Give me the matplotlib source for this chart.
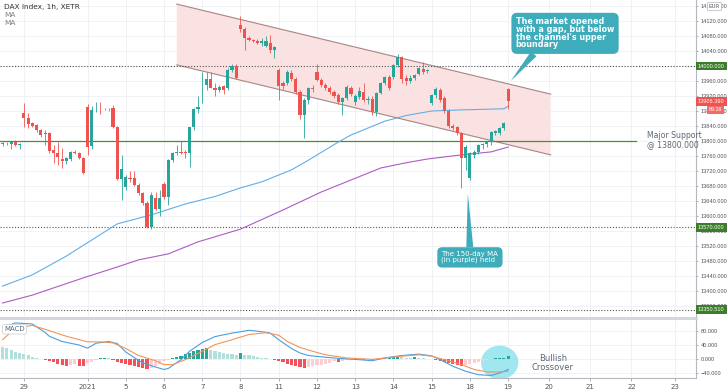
import matplotlib
matplotlib.use("Agg")
import matplotlib.pyplot as plt
import numpy as np
from matplotlib.patches import Ellipse, Polygon

# 1h candles, DAX Index (XETR), 28 Dec 2020 - 19 Jan 2021
opens = [13793, 13795, 13792, 13798, 13790, 13875, 13862, 13848, 13843, 13829,
         13818, 13821, 13776, 13768, 13752, 13747, 13752, 13771, 13768, 13755,
         13891, 13787, 13885, 13886, 13885, 13886, 13888, 13837, 13698, 13677,
         13701, 13701, 13683, 13661, 13635, 13571, 13648, 13619, 13685, 13651,
         13749, 13768, 13772, 13771, 13768, 13837, 13885, 13949, 13949, 13965,
         13941, 13936, 13947, 13941, 13989, 14000, 14109, 14099, 14075, 14070,
         14066, 14061, 14053, 14061, 14043, 13989, 13955, 13955, 13981, 13965,
         13931, 13869, 13909, 13941, 13984, 13963, 13949, 13941, 13932, 13923,
         13904, 13915, 13941, 13904, 13917, 13931, 13909, 13912, 13877, 13928,
         13955, 13971, 13971, 14003, 14024, 13968, 13960, 13968, 13979, 13992,
         13987, 13901, 13923, 13936, 13915, 13880, 13840, 13837, 13821, 13755,
         13701, 13763, 13771, 13789, 13792, 13797, 13822, 13821, 13835, 13939]
highs = [13797, 13798, 13801, 13802, 13794, 13901, 13875, 13852, 13846, 13832,
         13829, 13823, 13790, 13797, 13782, 13758, 13773, 13775, 13771, 13757,
         13900, 13893, 13904, 13904, 13888, 13889, 13895, 13840, 13763, 13710,
         13720, 13720, 13688, 13665, 13640, 13665, 13665, 13670, 13690, 13752,
         13772, 13790, 13800, 13775, 13838, 13888, 13920, 13984, 13984, 13984,
         13955, 13949, 13950, 13995, 14005, 14005, 14133, 14104, 14080, 14072,
         14072, 14075, 14080, 14083, 14053, 13995, 13960, 13990, 13990, 13970,
         13935, 13915, 13945, 13950, 14005, 13968, 13955, 13946, 13936, 13928,
         13918, 13950, 13946, 13925, 13945, 13955, 13920, 13920, 13930, 13958,
         13973, 13975, 14005, 14032, 14028, 13975, 13975, 13980, 13998, 14010,
         13992, 13925, 13945, 13942, 13920, 13885, 13845, 13840, 13825, 13790,
         13770, 13775, 13792, 13795, 13800, 13828, 13830, 13838, 13850, 13942]
lows = [13788, 13790, 13780, 13786, 13780, 13837, 13835, 13838, 13825, 13812,
        13790, 13768, 13742, 13736, 13728, 13740, 13748, 13765, 13752, 13712,
        13763, 13778, 13877, 13872, 13882, 13880, 13835, 13695, 13643, 13670,
        13690, 13680, 13655, 13630, 13568, 13566, 13615, 13600, 13645, 13630,
        13745, 13762, 13765, 13755, 13731, 13830, 13875, 13901, 13936, 13941,
        13920, 13930, 13925, 13935, 13985, 13965, 14090, 14043, 14068, 14064,
        14058, 14053, 14050, 14035, 14021, 13909, 13940, 13950, 13960, 13925,
        13860, 13808, 13900, 13930, 13960, 13945, 13937, 13925, 13915, 13900,
        13870, 13910, 13920, 13895, 13912, 13905, 13900, 13870, 13868, 13925,
        13950, 13935, 13965, 13998, 13955, 13950, 13955, 13962, 13975, 13978,
        13982, 13895, 13915, 13905, 13875, 13835, 13830, 13815, 13675, 13723,
        13695, 13755, 13765, 13780, 13785, 13790, 13815, 13815, 13830, 13885]
closes = [13795, 13794, 13798, 13789, 13791, 13862, 13845, 13840, 13829, 13816,
          13821, 13773, 13768, 13757, 13747, 13755, 13771, 13768, 13755, 13715,
          13784, 13883, 13886, 13885, 13886, 13885, 13837, 13698, 13725, 13704,
          13698, 13683, 13661, 13635, 13571, 13656, 13619, 13648, 13651, 13749,
          13768, 13771, 13768, 13768, 13837, 13885, 13891, 13950, 13965, 13941,
          13936, 13944, 13936, 13989, 14000, 13968, 14099, 14075, 14069, 14066,
          14061, 14067, 14066, 14043, 14050, 13947, 13947, 13984, 13965, 13931,
          13869, 13909, 13941, 13938, 13963, 13949, 13941, 13930, 13920, 13904,
          13915, 13944, 13925, 13920, 13933, 13909, 13912, 13877, 13928, 13955,
          13971, 13941, 14003, 14024, 13965, 13960, 13968, 13976, 13995, 13984,
          13987, 13923, 13939, 13909, 13880, 13840, 13835, 13821, 13755, 13784,
          13768, 13771, 13789, 13792, 13797, 13824, 13826, 13835, 13848, 13906.39]

# moving averages (read at a few bars)
ma_fast_idx = [0, 7, 15, 21, 27, 35, 43, 50, 56, 61, 68, 72, 79, 82, 90, 95, 101, 108, 115, 118, 119]
ma_fast = [13413, 13443, 13493, 13536, 13579, 13603, 13632, 13652, 13675, 13691, 13723,
           13749, 13797, 13816, 13853, 13868, 13880, 13883, 13885, 13886, 13893]
ma_slow_idx = [0, 7, 19, 27, 32, 39, 46, 56, 66, 75, 82, 89, 95, 100, 108, 115, 119]
ma_slow = [13368, 13389, 13435, 13464, 13483, 13499, 13531, 13565, 13616, 13664,
           13696, 13728, 13742, 13752, 13763, 13771, 13784]

# MACD panel
hist = [34, 30, 25, 21, 17, 13, 10, 7, 4, 1,
        -4, -7, -10, -13, -16, -19, -16, -14, -19, -20,
        -12, -8, -4, 2, 3, 2, -2, -8, -12, -15,
        -18, -21, -24, -27, -30, -25, -19, -13, -7, -2,
        3, 6, 9, 13, 17, 22, 25, 29, 30, 26,
        22, 20, 17, 15, 14, 12, 17, 12, 10, 8,
        6, 4, 2, -1, -4, -6, -10, -14, -17, -20,
        -24, -25, -22, -20, -18, -16, -14, -12, -7, -8,
        -5, -4, -3, -2, -1.5, -2.5, -1.5, -2.5, -1, 1,
        2, 3, 5, 7, 5, 4, 3, 4.5, 3, 2,
        1, -1, -3, -5, -8, -11, -14, -17, -20, -17,
        -14, -11, -8, -5, -3, -1, 2, 3, 4, 8]
macd_idx = [0, 3, 7, 10, 11, 14, 18, 20, 22, 25, 27, 29, 31, 33, 36, 38, 39, 42, 44,
            47, 50, 54, 58, 61, 63, 65, 68, 70, 72, 76, 80, 84, 87, 90, 94, 98, 101,
            103, 106, 109, 112, 115, 117, 119]
macd_line = [89, 103, 100, 76, 65, 50, 40, 31, 45, 50, 44, 20, 4, -11, -23, -30, -27,
             -2, 22, 47, 64, 74, 82, 78, 74, 55, 30, 17, 10, 5, 1, -2, -5, 3, 10, 14,
             9, -2, -21, -35, -45, -47, -40, -30]
signal_idx = [0, 3, 7, 10, 15, 20, 23, 26, 29, 32, 36, 38, 40, 43, 47, 50, 54, 58, 62,
              65, 67, 70, 73, 76, 81, 84, 87, 90, 94, 98, 101, 104, 108, 111, 114, 117, 119]
signal_line = [55, 88, 96, 85, 65, 49, 49, 46, 30, 10, -5, -16, -16, -2, 22, 41, 55, 70,
               75, 68, 50, 33, 22, 12, 3, 1, -1, 3, 8, 12, 8, -2, -16, -30, -37, -37, -35]

day_pos = [5, 20, 29, 38, 47, 56, 65, 74, 83, 92, 101, 110, 119, 128.6, 138.2, 148, 158.2]
day_labels = ["29", "2021", "5", "6", "7", "8", "11", "12", "13", "14", "15", "18",
              "19", "20", "21", "22", "23"]

# channel and levels
chan_x = [41, 129]
chan_upper = [14165, 13925]
chan_lower = [14003, 13763]
support = 13800
levels = [14000, 13570, 13350.51]

GREEN = "#26a69a"
RED = "#ef5350"
TEAL = "#3eacba"
GRID = "#eef0f4"
LBL = "#50545c"
AXF = "Liberation Sans"

fig = plt.figure(figsize=(7.28, 3.91), dpi=100)
ax = fig.add_axes([0, 73 / 391, 696 / 728, 318 / 391])
ax2 = fig.add_axes([0, 13 / 391, 696 / 728, 58 / 391], sharex=ax)

x = np.arange(len(opens))
o = np.array(opens); h = np.array(highs); l = np.array(lows); c = np.array(closes)
up = c >= o
cols = np.where(up, GREEN, RED)

for a in (ax, ax2):
    for d in day_pos:
        a.axvline(d, color=GRID, lw=0.6, zorder=0)

yt = np.arange(13360, 14161, 40)
for v in yt:
    ax.axhline(v, color=GRID, lw=0.6, zorder=0)

# channel
ax.add_patch(Polygon([(chan_x[0], chan_upper[0]), (chan_x[1], chan_upper[1]),
                      (chan_x[1], chan_lower[1]), (chan_x[0], chan_lower[0])],
                     closed=True, fc="#fbe2e2", ec="none", zorder=1))
ax.plot(chan_x, chan_upper, color="#a88585", lw=0.8, zorder=2)
ax.plot(chan_x, chan_lower, color="#a88585", lw=0.8, zorder=2)

for v in levels:
    ax.axhline(v, color="#555555", lw=0.8, ls=(0, (1, 1.6)), zorder=2)
ax.plot([-1, 149], [support, support], color="#4a8c3a", lw=0.9, zorder=2)

ax.plot(ma_fast_idx, ma_fast, color="#62aee8", lw=0.8, zorder=3)
ax.plot(ma_slow_idx, ma_slow, color="#ad5cc4", lw=0.8, zorder=3)

# candles
ax.vlines(x, l, h, colors=cols, lw=0.6, zorder=4)
body = np.maximum(np.abs(c - o), 1.5)
ax.bar(x, body, bottom=np.minimum(o, c), width=0.72, color=cols, zorder=5)

ax.set_xlim(-0.6, 163.2)
ax.set_ylim(13328, 14176)
ax.yaxis.tick_right()
ax.set_yticks(yt)
ax.set_yticklabels(["%.3f" % v for v in yt], family=AXF)
ax.tick_params(axis="y", labelsize=4.1, colors="#8a8e96", labelcolor=LBL, length=1.5, pad=2, width=0.5)
ax.tick_params(axis="x", bottom=False, labelbottom=False)
for s in ["top", "left"]:
    ax.spines[s].set_visible(False)
ax.spines["right"].set_color("#b4b7be")
ax.spines["right"].set_linewidth(0.8)
ax.spines["bottom"].set_color("#d1d4dc")
ax.spines["bottom"].set_linewidth(2)

# highlighted price labels
yt_tr = ax.get_yaxis_transform()
def price_tag(v, txt, fc, xx=1.003, fs=4.1):
    ax.text(xx, v, txt, transform=yt_tr, fontsize=fs, color="white", va="center", ha="left",
            family=AXF, bbox=dict(boxstyle="square,pad=0.35", fc=fc, ec="none"),
            clip_on=False, zorder=10)

price_tag(14000, "14000.000", "#3b7d2a")
price_tag(13570, "13570.000", "#3b7d2a")
price_tag(13350.51, "13350.510", "#3b7d2a")
price_tag(closes[-1], "13906.390", RED)
price_tag(13883, "89.16", "#f26b6b", xx=1.018, fs=3.8)
ax.text(1.018, 14160, "EUR", transform=yt_tr, fontsize=3.9, color=LBL, va="center", ha="left",
        family=AXF, bbox=dict(boxstyle="square,pad=0.3", fc="white", ec="#b4b7be", lw=0.5),
        clip_on=False, zorder=10)

ax.text(0.006, 0.978, "DAX Index, 1h, XETR", transform=ax.transAxes, fontsize=5.3,
        color="#333333", va="center")
ax.text(0.006, 0.953, "MA", transform=ax.transAxes, fontsize=5.3, color="#7a7e86", va="center")
ax.text(0.006, 0.928, "MA", transform=ax.transAxes, fontsize=5.3, color="#7a7e86", va="center")

ax.text(151.6, support + 3, "Major Support\n@ 13800.000", fontsize=5.6, color="#5b6777",
        va="center", ha="left", linespacing=0.95, zorder=6)

ax.annotate("The market opened\nwith a gap, but below\nthe channel's upper\nboundary",
            xy=(119.6, 13960), xytext=(120.8, 14130), fontsize=5.8, fontweight="bold",
            color="white", ha="left", va="top", linespacing=0.82, zorder=8,
            bbox=dict(boxstyle="round,pad=0.55,rounding_size=0.7", fc=TEAL, ec="none"),
            arrowprops=dict(arrowstyle="wedge,tail_width=0.9", fc=TEAL, ec="none",
                            relpos=(0.22, 0.0), shrinkA=0, shrinkB=0))
ax.annotate("The 150-day MA\n(in purple) held",
            xy=(109.5, 13661), xytext=(103.3, 13507), fontsize=5.0,
            color="white", ha="left", va="top", linespacing=1.0, zorder=8,
            bbox=dict(boxstyle="round,pad=0.6,rounding_size=0.7", fc=TEAL, ec="none"),
            arrowprops=dict(arrowstyle="wedge,tail_width=1.0", fc=TEAL, ec="none",
                            relpos=(0.5, 1.0), shrinkA=0, shrinkB=0))

# MACD
hv = np.array(hist, dtype=float)
prev = np.concatenate([[hv[0] + 1], hv[:-1]])
hcols = np.where(hv >= 0, np.where(hv >= prev, GREEN, "#b2dfdb"),
                 np.where(hv < prev, "#f4515a", "#fdcdd3"))
ax2.add_patch(Ellipse((117, -10), 8.8, 96, fc="#8fe3ee", ec="none", alpha=0.85, zorder=1))
ax2.bar(x, hv, width=0.72, color=hcols, zorder=2)
ax2.plot(macd_idx, macd_line, color="#4a9fe0", lw=0.8, zorder=3)
ax2.plot(signal_idx, signal_line, color="#f29558", lw=0.8, zorder=3)
for v in [80, 40, 0, -40]:
    ax2.axhline(v, color=GRID, lw=0.6, zorder=0)
ax2.text(129.5, -11, "Bullish\nCrossover", fontsize=6.0, color="#5b6777", ha="center",
         va="center", linespacing=0.95)
ax2.text(0.006, 0.84, "MACD", transform=ax2.transAxes, fontsize=5, color="#5b6777",
         va="center", bbox=dict(boxstyle="round,pad=0.25", fc="white", ec="#c8cbd2", lw=0.5))

ax2.set_ylim(-54.3, 111.4)
ax2.yaxis.tick_right()
ax2.set_yticks([80, 40, 0, -40])
ax2.set_yticklabels(["80.000", "40.000", "0.000", "\u221240.000"], family=AXF)
ax2.tick_params(axis="y", labelsize=4.1, colors="#8a8e96", labelcolor=LBL, length=1.5, pad=2, width=0.5)
ax2.set_xticks(day_pos)
ax2.set_xticklabels(day_labels)
ax2.tick_params(axis="x", labelsize=5, labelcolor=LBL, colors="#8a8e96", length=2, pad=2, width=0.5)
for s in ["top", "left"]:
    ax2.spines[s].set_visible(False)
for s in ["right", "bottom"]:
    ax2.spines[s].set_color("#b4b7be")
    ax2.spines[s].set_linewidth(0.8)

fig.savefig("out.png", dpi=100, facecolor="white")
